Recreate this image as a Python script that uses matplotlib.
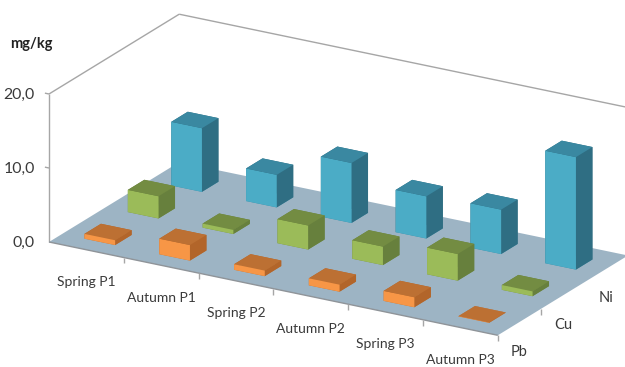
import numpy as np
import matplotlib
matplotlib.use("Agg")
import matplotlib.pyplot as plt
from mpl_toolkits.mplot3d import Axes3D  # noqa: F401
from mpl_toolkits.mplot3d.art3d import Poly3DCollection

# Concentrations per sampling campaign (mg/kg)
categories = ["Spring P1", "Autumn P1", "Spring P2", "Autumn P2", "Spring P3", "Autumn P3"]
series_names = ["Pb", "Cu", "Ni"]
pb_values = [0.65, 2.1, 0.75, 0.95, 1.35, 0.04]
cu_values = [3.0, 0.55, 3.25, 2.5, 3.6, 0.65]
ni_values = [8.6, 4.4, 8.1, 5.7, 6.0, 15.2]
z_ticks = [0, 10, 20]
z_tick_labels = ["0,0", "10,0", "20,0"]

# (front, top, side) face colours of each series
face_colors = {
    "Pb": ("#F79646", "#BC7033", "#B2652A"),
    "Cu": ("#9BBB59", "#738C42", "#67803D"),
    "Ni": ("#4BACC6", "#3A88A1", "#2F6E83"),
}
series_values = [pb_values, cu_values, ni_values]

W, H = 625, 367
GRID = "#A6A6A6"
TEXT = "#3A3A3A"
FONT = "Lato"

fig = plt.figure(figsize=(W / 100, H / 100), dpi=100, facecolor="white")
ax = fig.add_subplot(projection="3d", computed_zorder=False)
ax.set_position([0, 0, 1, 1])
ax.apply_aspect = lambda position=None: None
ax.set_axis_off()
ax.patch.set_visible(False)


def oblique_projection():
    """Parallel projection with the pixel directions of the floor and the value axis."""
    origin = np.array([49.0, H - 242.0])
    ex = np.array([74.8, -15.55])     # one category along the front edge
    ey = np.array([43.4, 26.6])       # one series along the depth
    ez = np.array([0.0, 7.4])         # one mg/kg upwards
    inv = ax.transData.inverted()
    o = inv.transform(origin)
    dx = inv.transform(origin + ex) - o
    dy = inv.transform(origin + ey) - o
    dz = inv.transform(origin + ez) - o
    return np.array([
        [dx[0], dy[0], dz[0], o[0]],
        [dx[1], dy[1], dz[1], o[1]],
        [-0.03, 0.1, -0.03, 0.0],
        [0.0, 0.0, 0.0, 1.0],
    ])


ax.get_proj = oblique_projection

n_cat, n_ser = len(categories), len(series_names)
z_top = z_ticks[-1]


def seg(xs, ys, zs, color=GRID, lw=1.0, zorder=1):
    ax.plot(xs, ys, zs, color=color, lw=lw, zorder=zorder, solid_capstyle="butt")


# Walls: gridlines on the left and back sides
for z in z_ticks:
    seg([0, 0], [0, n_ser], [z, z])
    seg([0, n_cat], [n_ser, n_ser], [z, z])
    seg([-0.055, 0], [0, 0], [z, z])
seg([0, 0], [0, 0], [0, z_top])
seg([0, 0], [n_ser, n_ser], [0, z_top])

# Floor
floor = Poly3DCollection(
    [[(0, 0, 0), (n_cat, 0, 0), (n_cat, n_ser, 0), (0, n_ser, 0)]],
    facecolors="#9DB4C4", edgecolors="none", zorder=2,
)
ax.add_collection3d(floor, autolim=False)
seg([0, n_cat], [0, 0], [0, 0], color="#8F9499", lw=1.0, zorder=3)
seg([n_cat, n_cat], [0, n_ser], [0, 0], color="#A3B4C0", lw=1.0, zorder=3)

# Tick marks under the floor edges
for i in range(n_cat + 1):
    seg([i, i], [0, 0], [0, -0.8], zorder=3)
for j in range(1, n_ser):
    seg([n_cat, n_cat], [j, j], [0, -0.8], zorder=3)

# Bars, from the back row to the front row
bar_x, bar_y = 0.30, 0.30
bar_w, bar_d = 0.41, 0.38
order = 10
for j in reversed(range(n_ser)):
    front, top, side = face_colors[series_names[j]]
    # bar3d face order: bottom, top, front, back, left, right
    faces = [top, top, front, side, side, side]
    for i in range(n_cat):
        col = ax.bar3d(i + bar_x, j + bar_y, 0, bar_w, bar_d, series_values[j][i],
                       color=faces, shade=False, linewidth=0, zsort="average")
        col.set_zorder(order)
        order += 1

# Axis texts
for z, label in zip(z_ticks, z_tick_labels):
    ax.text(-0.19, 0, z - 0.5, label, ha="right", va="center", fontsize=11.4,
            color=TEXT, family=FONT, zorder=100)
for i, label in enumerate(categories):
    ax.text(i + 0.5, 0, -4.35, label, ha="center", va="center", fontsize=10,
            color=TEXT, family=FONT, zorder=100)
for j, label in enumerate(series_names):
    ax.text(n_cat, j + 0.5, -4.0, label, ha="center", va="center", fontsize=10.5,
            color=TEXT, family=FONT, zorder=100)

fig.text(10 / W, 1 - 44 / H, "mg/kg", ha="left", va="center", fontsize=10.5,
         fontweight="bold", color="#222222", family=FONT)

fig.savefig("out.png", dpi=100)
